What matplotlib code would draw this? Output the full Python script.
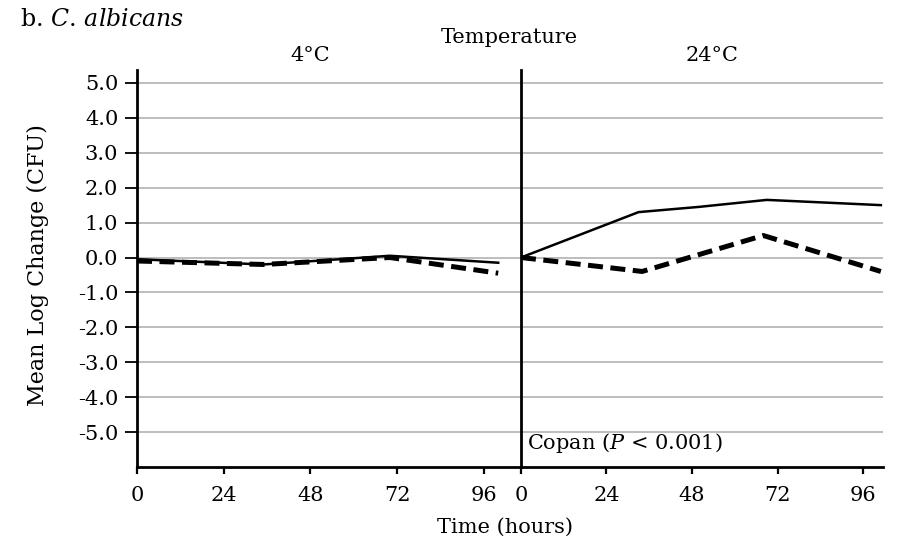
import matplotlib
matplotlib.use("Agg")
import matplotlib.pyplot as plt

# data (hours, mean log change)
t_cold = [0, 35, 70, 100]
solid_cold = [-0.05, -0.2, 0.05, -0.15]
dash_cold = [-0.1, -0.2, 0.0, -0.45]

t_warm = [0, 33, 50, 69, 101]
solid_warm = [0.0, 1.3, 1.45, 1.65, 1.5]
t_warm_d = [0, 34, 68, 101]
dash_warm = [0.0, -0.4, 0.63, -0.4]

x_ticks = [0, 24, 48, 72, 96]
y_ticks = [5, 4, 3, 2, 1, 0, -1, -2, -3, -4, -5]
y_labels = ["%.1f" % v for v in y_ticks]

plt.rcParams["font.family"] = ["DejaVu Serif"]
plt.rcParams["mathtext.fontset"] = "custom"
plt.rcParams["mathtext.rm"] = "DejaVu Serif"
plt.rcParams["mathtext.it"] = "DejaVu Serif:italic"

fig = plt.figure(figsize=(8.99, 5.41), dpi=100)
ax1 = fig.add_axes([0.1524, 0.1368, 0.4271, 0.7338])
ax2 = fig.add_axes([0.5795, 0.1368, 0.4027, 0.7338], sharey=ax1)

for ax in (ax1, ax2):
    for v in y_ticks:
        ax.axhline(v, color="#ababab", lw=1.1, zorder=1)
    ax.spines["top"].set_visible(False)
    ax.spines["right"].set_visible(False)
    ax.spines["left"].set_linewidth(2)
    ax.spines["bottom"].set_linewidth(2)
    ax.set_xticks(x_ticks)
    ax.set_xticklabels([str(v) for v in x_ticks], fontsize=15)
    ax.tick_params(axis="x", direction="out", length=5, width=1.6, pad=9)
    ax.set_ylim(-6, 5.37)

ax1.set_xlim(0, 106.3)
ax2.set_xlim(0, 101.6)

ax1.set_yticks(y_ticks)
ax1.set_yticklabels(y_labels, fontsize=15)
ax1.tick_params(axis="y", direction="out", length=8.5, width=1.3, pad=5)
ax2.tick_params(axis="y", left=False, labelleft=False)

ax1.plot(t_cold, solid_cold, color="black", lw=1.8, zorder=3)
ax1.plot(t_cold, dash_cold, color="black", lw=3.6, dashes=(3, 1.5), zorder=3)
ax2.plot(t_warm, solid_warm, color="black", lw=1.8, zorder=3)
ax2.plot(t_warm_d, dash_warm, color="black", lw=3.6, dashes=(3, 1.5), zorder=3)

ax2.text(0.017, 0.06, r"Copan ($\mathit{P}$ < 0.001)", transform=ax2.transAxes,
         fontsize=15, va="center", ha="left")

ax1.set_ylabel("Mean Log Change (CFU)", fontsize=16)
ax1.yaxis.set_label_coords(-0.228, 0.509)

fig.text(0.022, 0.964, r"b. $\mathit{C.\,albicans}$", fontsize=17, ha="left", va="center")
fig.text(0.567, 0.930, "Temperature", fontsize=15, ha="center", va="center")
fig.text(0.345, 0.898, "4°C", fontsize=15, ha="center", va="center")
fig.text(0.792, 0.898, "24°C", fontsize=15, ha="center", va="center")
fig.text(0.562, 0.025, "Time (hours)", fontsize=15, ha="center", va="center")

fig.savefig("out.png", dpi=100)
